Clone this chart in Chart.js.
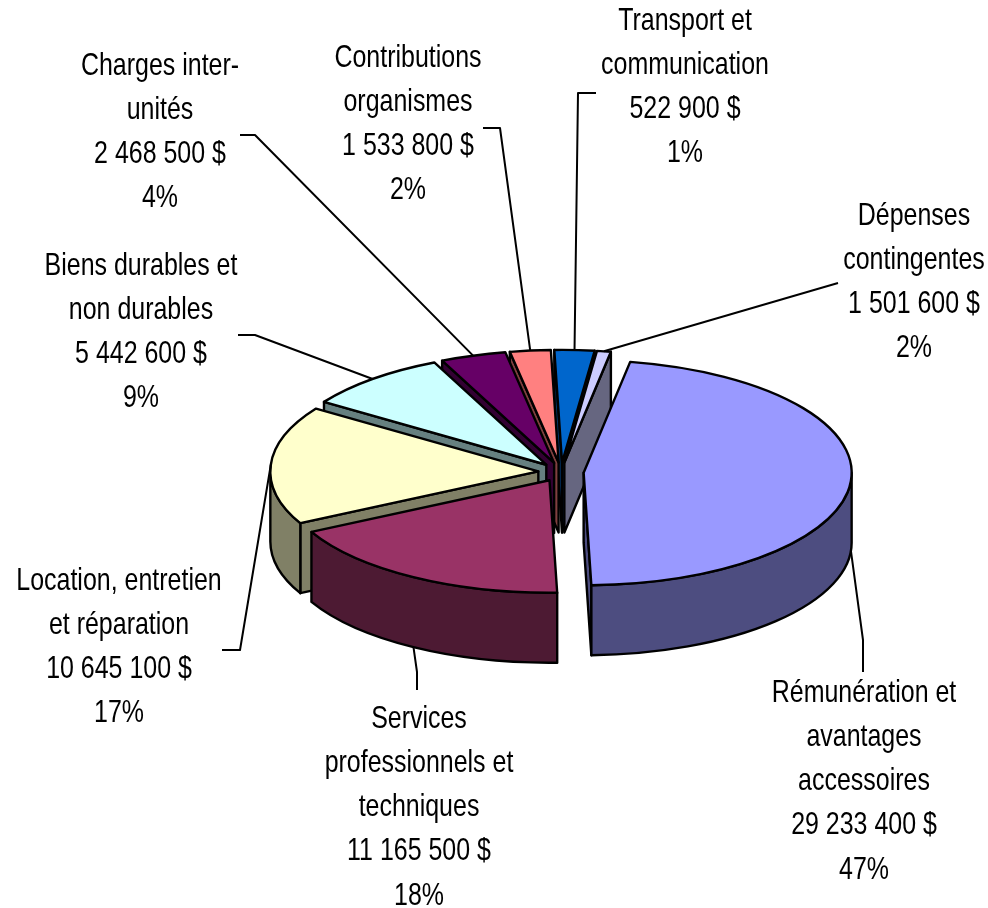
<!DOCTYPE html>
<html>
<head>
<meta charset="utf-8">
<style>
  html, body { margin: 0; padding: 0; background: #fff; }
  canvas { display: block; }
</style>
<script src="https://cdn.jsdelivr.net/npm/chart.js@4"></script>
</head>
<body>
<canvas id="depenses-chart" width="988" height="908"></canvas>
<script>
// slices in drawing order, clockwise from the big one
const categories = [
  ["Rémunération et", "avantages", "accessoires"],
  ["Services", "professionnels et", "techniques"],
  ["Location, entretien", "et réparation"],
  ["Biens durables et", "non durables"],
  ["Charges inter-", "unités"],
  ["Contributions", "organismes"],
  ["Transport et", "communication"],
  ["Dépenses", "contingentes"]
];
// the reference draws the blue slice wider than the lavender one, whatever their
// printed amounts say, so slice sizes and printed amounts are kept apart
const sliceValues = [29233400, 11165500, 10645100, 5442600, 2468500, 1533800, 1501600, 522900];
const amounts = ["29 233 400 $", "11 165 500 $", "10 645 100 $", "5 442 600 $", "2 468 500 $", "1 533 800 $", "522 900 $", "1 501 600 $"];
const percents = ["47%", "18%", "17%", "9%", "4%", "2%", "1%", "2%"];
const topColors = ["#9999FF", "#993366", "#FFFFCC", "#CCFFFF", "#660066", "#FF8080", "#0066CC", "#CCCCFF"];
const wallColors = ["#4D4D80", "#4D1A33", "#808066", "#668080", "#330033", "#804040", "#003366", "#666680"];

// layout of the text blocks: centre x, y of first line, then the leader's elbow points
const labelLayout = [
  { x: 864, y: 693, leader: [[863, 640], [863, 672]] },
  { x: 419, y: 719, leader: [[417, 672], [417, 690]] },
  { x: 119, y: 581, leader: [[240, 650], [222, 650]] },
  { x: 141, y: 266, leader: [[255, 335], [238, 335]] },
  { x: 160, y: 66, leader: [[255, 135], [240, 135]] },
  { x: 408, y: 58, leader: [[500, 128], [483, 128]] },
  { x: 685, y: 21, leader: [[578, 93], [596, 93]] },
  { x: 914, y: 216, leader: [[838, 283]] }
];

const centerX = 561;
const centerY = 472;
const radius = 268;
const tilt = 0.42;
const depth = 70;
const explode = 22.7;
const lineHeight = 44.2;
const textSqueeze = 0.78;

// top face center of an arc on screen, arcs themselves are drawn squashed
function faceCenter(arc) {
  return { x: arc.x, y: centerY + (arc.y - centerY) * tilt };
}

function radialWall(ctx, c, angle) {
  const px = c.x + radius * Math.cos(angle);
  const py = c.y + radius * tilt * Math.sin(angle);
  ctx.beginPath();
  ctx.moveTo(c.x, c.y);
  ctx.lineTo(px, py);
  ctx.lineTo(px, py + depth);
  ctx.lineTo(c.x, c.y + depth);
  ctx.closePath();
  ctx.fill();
  ctx.stroke();
}

function outerWall(ctx, c, from, to) {
  ctx.beginPath();
  ctx.ellipse(c.x, c.y, radius, radius * tilt, 0, from, to);
  ctx.ellipse(c.x, c.y + depth, radius, radius * tilt, 0, to, from, true);
  ctx.closePath();
  ctx.fill();
  ctx.stroke();
}

const pie3d = {
  id: "pie3d",
  afterDatasetsUpdate(chart) {
    // explode every slice along its middle angle
    chart.getDatasetMeta(0).data.forEach((arc) => {
      const mid = (arc.startAngle + arc.endAngle) / 2;
      arc.x += Math.cos(mid) * explode;
      arc.y += Math.sin(mid) * explode;
    });
  },
  beforeDatasetsDraw(chart) {
    const ctx = chart.ctx;
    const arcs = chart.getDatasetMeta(0).data;
    const order = arcs.map((arc, i) => i).sort((a, b) => {
      const ma = (arcs[a].startAngle + arcs[a].endAngle) / 2;
      const mb = (arcs[b].startAngle + arcs[b].endAngle) / 2;
      return Math.sin(ma) - Math.sin(mb);
    });
    ctx.save();
    ctx.strokeStyle = "#000";
    ctx.lineWidth = 2.4;
    ctx.lineJoin = "round";
    order.forEach((i) => {
      const arc = arcs[i];
      const c = faceCenter(arc);
      ctx.fillStyle = wallColors[i];
      if (Math.cos(arc.startAngle) < 0) radialWall(ctx, c, arc.startAngle);
      if (Math.cos(arc.endAngle) > 0) radialWall(ctx, c, arc.endAngle);
      // the front half of the rim, canvas angles 0 to PI
      for (const shift of [0, Math.PI * 2]) {
        const from = Math.max(arc.startAngle, shift);
        const to = Math.min(arc.endAngle, shift + Math.PI);
        if (to > from) outerWall(ctx, c, from, to);
      }
    });
    ctx.restore();
    // library draws the top faces squashed around the pie center
    ctx.save();
    ctx.translate(centerX, centerY);
    ctx.scale(1, tilt);
    ctx.translate(-centerX, -centerY);
  },
  afterDatasetsDraw(chart) {
    const ctx = chart.ctx;
    ctx.restore();
    const arcs = chart.getDatasetMeta(0).data;
    ctx.save();
    ctx.strokeStyle = "#000";
    ctx.lineWidth = 2.4;
    ctx.lineJoin = "round";
    arcs.forEach((arc) => {
      const c = faceCenter(arc);
      ctx.beginPath();
      ctx.moveTo(c.x, c.y);
      ctx.ellipse(c.x, c.y, radius, radius * tilt, 0, arc.startAngle, arc.endAngle);
      ctx.closePath();
      ctx.stroke();
    });
    ctx.lineWidth = 2;
    arcs.forEach((arc, i) => {
      const c = faceCenter(arc);
      const mid = (arc.startAngle + arc.endAngle) / 2;
      const front = Math.sin(mid) > 0.03 ? depth : 0;
      ctx.beginPath();
      ctx.moveTo(c.x + radius * Math.cos(mid), c.y + radius * tilt * Math.sin(mid) + front);
      labelLayout[i].leader.forEach((p) => ctx.lineTo(p[0], p[1]));
      ctx.stroke();
    });
    ctx.fillStyle = "#000";
    ctx.font = "32px 'Liberation Sans'";
    ctx.textAlign = "center";
    ctx.textBaseline = "middle";
    categories.forEach((cat, i) => {
      const lines = cat.concat(amounts[i], percents[i]);
      lines.forEach((line, n) => {
        ctx.save();
        ctx.translate(labelLayout[i].x, labelLayout[i].y + n * lineHeight);
        ctx.scale(textSqueeze, 1);
        ctx.fillText(line, 0, 0);
        ctx.restore();
      });
    });
    ctx.restore();
  }
};

new Chart("depenses-chart", {
  type: "pie",
  data: {
    labels: categories.map((c) => c.join(" ")),
    datasets: [
      {
        data: sliceValues,
        backgroundColor: topColors,
        borderWidth: 0,
        clip: false
      }
    ]
  },
  options: {
    responsive: false,
    animation: false,
    rotation: 10,
    radius: radius,
    layout: {
      padding: { left: 2 * centerX - 988, top: 2 * centerY - 908 }
    },
    plugins: {
      legend: { display: false },
      tooltip: { enabled: false }
    }
  },
  plugins: [pie3d]
});
</script>
</body>
</html>
